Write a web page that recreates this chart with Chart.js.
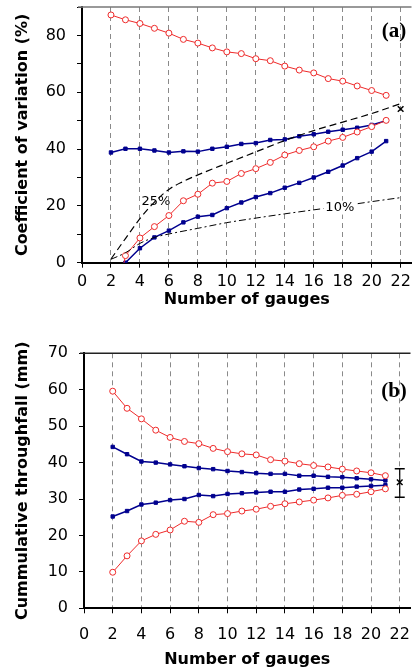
<!DOCTYPE html>
<html>
<head>
<meta charset="utf-8">
<script src="https://cdn.jsdelivr.net/npm/chart.js@4.4.1/dist/chart.umd.min.js"></script>
<style>
  html, body { margin: 0; padding: 0; background: #fff; overflow: hidden; width: 417px; height: 670px; }
  canvas { position: absolute; left: 0; }
  #ca { top: 0; }
  #cb { top: 335px; }
</style>
</head>
<body>
<canvas id="ca" width="417" height="310"></canvas>
<canvas id="cb" width="417" height="335"></canvas>
<script>
// ---------- data ----------
const gauges = [2,3,4,5,6,7,8,9,10,11,12,13,14,15,16,17,18,19,20,21];
const xTicks = [0,2,4,6,8,10,12,14,16,18,20,22];

// panel (a): coefficient of variation (%)
const cvRedUpper  = [87.2,85.5,84.2,82.5,80.8,78.6,77.3,75.6,74.2,73.6,71.8,71.1,69.2,67.8,66.8,64.8,63.9,62.2,60.6,58.9];
const cvBlueUpper = [38.8,40.1,40.1,39.5,38.8,39.2,39.1,40.1,40.8,41.8,42.1,43.2,43.4,44.5,45.2,46.1,46.8,47.5,48.5,50.0];
const cvRedLower  = [-22.5,2.5,8.7,12.7,16.6,21.8,24.1,28.0,28.6,31.4,33.1,35.3,37.9,39.5,40.8,42.8,44.1,46.0,47.9,50.1];
const cvBlueLower = [null,0.0,5.1,8.9,11.3,14.2,16.2,16.8,19.2,21.2,23.1,24.5,26.4,28.1,30.0,32.0,34.2,36.8,39.1,42.8];
const curve25X = [2,3,4,5,6,7,8,10,12,14,16,18,20,22];
const curve25Y = [1.3,8.5,15.5,21.3,25.8,28.6,30.9,35,39,43,46.5,49.5,52.5,56];
const curve10X = [2,3,4,5,6,8,10,12,14,16,18,20,22];
const curve10Y = [1.2,3.5,6.8,8.9,10.1,12.1,14.1,15.7,17.2,18.6,20.0,21.5,22.9];
const cvRef = {x: 22, y: 54.1};

// panel (b): cumulative throughfall (mm)
const tfRedUpper  = [59.6,54.9,52.0,48.9,46.9,45.8,45.2,43.9,43.0,42.4,42.1,40.8,40.4,39.7,39.2,38.8,38.2,37.7,37.2,36.4];
const tfBlueUpper = [44.3,42.3,40.3,40.0,39.5,39.0,38.5,38.2,37.7,37.4,37.1,36.9,36.9,36.4,36.4,36.1,36.0,35.7,35.4,35.1];
const tfBlueLower = [25.2,26.7,28.5,29.0,29.7,30.0,31.1,30.8,31.4,31.6,31.8,32.0,32.0,32.6,32.8,33.1,33.1,33.4,33.6,33.8];
const tfRedLower  = [9.9,14.4,18.5,20.3,21.5,23.9,23.6,25.7,26.0,26.7,27.2,28.0,28.7,29.2,29.7,30.3,31.0,31.3,32.0,32.8];
const tfRef = {x: 22, mean: 34.6, low: 30.5, high: 38.3};

// ---------- helpers ----------
const RED = '#ee2a2a', BLUE = '#00008f', GRID = '#8a8a8a';
const pts = (xs, ys) => xs.map((x, i) => ({x, y: ys[i]}));

function redSeries(ys) {
  return { data: pts(gauges, ys), borderColor: RED, borderWidth: 1, pointStyle: 'circle',
    pointRadius: 3, pointBorderWidth: 1, pointBackgroundColor: '#fff', pointBorderColor: RED, tension: 0 };
}
function blueSeries(ys) {
  return { data: pts(gauges, ys), borderColor: BLUE, borderWidth: 1.5, pointStyle: 'rect',
    pointRadius: 2.4, pointBorderWidth: 1, pointBackgroundColor: BLUE, pointBorderColor: BLUE, tension: 0 };
}

const decor = {
  id: 'decor',
  afterDraw(chart, args, o) {
    const {ctx, chartArea: a} = chart;
    ctx.save();
    ctx.strokeStyle = o.topColor; ctx.lineWidth = o.topWidth;
    ctx.beginPath(); ctx.moveTo(a.left - 4, a.top); ctx.lineTo(a.right, a.top); ctx.stroke();
    ctx.fillStyle = '#000'; ctx.textAlign = 'center'; ctx.textBaseline = 'middle';
    ctx.font = 'bold 21px "Liberation Serif"';
    ctx.fillText(o.tag, a.left + o.tagDX, a.top + o.tagDY);
    (o.notes || []).forEach(n => {
      const x = chart.scales.x.getPixelForValue(n.x), y = chart.scales.y.getPixelForValue(n.y);
      ctx.font = '13px "DejaVu Sans"';
      const w = ctx.measureText(n.text).width;
      if (n.bg) { ctx.fillStyle = '#fff'; ctx.fillRect(x - w / 2 - 2, y - 7, w + 4, 14); }
      ctx.fillStyle = '#000';
      ctx.fillText(n.text, x, y);
    });
    ctx.restore();
  }
};

function xScale(h, pad, titlePad) {
  return {
    type: 'linear', min: 0, max: 22.75,
    afterBuildTicks: s => { s.ticks = xTicks.map(v => ({value: v})); },
    afterFit: s => { s.height = h; s.paddingLeft = 0; s.paddingRight = 0; },
    ticks: { color: '#000', font: {family: 'DejaVu Sans', size: 16}, padding: pad, maxRotation: 0, autoSkip: false },
    grid: { color: c => (c.tick && c.tick.value === 0) ? 'rgba(0,0,0,0)' : GRID, lineWidth: 1,
            drawTicks: true, tickLength: 5, tickColor: '#000', tickWidth: 1, tickBorderDash: [] },
    border: { display: true, color: '#000', width: 2, dash: [5, 4] },
    title: { display: true, text: 'Number of gauges', color: '#000',
             font: {family: 'DejaVu Sans', size: 16, weight: 'bold'}, padding: {top: 0, bottom: titlePad} }
  };
}
function yScale(w, max, step, labelEvery, title) {
  return {
    type: 'linear', min: 0, max: max,
    afterFit: s => { s.width = w; s.paddingTop = 0; s.paddingBottom = 0; },
    ticks: { stepSize: step, color: '#000', font: {family: 'DejaVu Sans', size: 16}, padding: 11,
             callback: v => (v % labelEvery === 0 ? String(v) : '') },
    grid: { drawOnChartArea: false, drawTicks: true, tickLength: 5, tickColor: '#000', tickWidth: 1 },
    border: { display: true, color: '#000', width: 2 },
    title: { display: true, text: title, color: '#000',
             font: {family: 'DejaVu Sans', size: 16, weight: 'bold'}, padding: {top: 13, bottom: 0} }
  };
}

const common = {
  responsive: false, animation: false, events: [],
  plugins: { legend: {display: false}, tooltip: {enabled: false} }
};

// ---------- chart (a) ----------
new Chart(document.getElementById('ca'), {
  type: 'line',
  data: { datasets: [
    { data: pts(curve25X, curve25Y), borderColor: '#000', borderWidth: 1.2, borderDash: [7, 4],
      pointRadius: 0, cubicInterpolationMode: 'monotone' },
    { data: pts(curve10X, curve10Y), borderColor: '#000', borderWidth: 1, borderDash: [7, 3, 2, 3],
      pointRadius: 0, cubicInterpolationMode: 'monotone' },
    redSeries(cvRedUpper),
    redSeries(cvRedLower),
    blueSeries(cvBlueUpper),
    blueSeries(cvBlueLower),
    { data: [cvRef], showLine: false, pointStyle: 'crossRot', pointRadius: 4,
      pointBorderColor: '#000', pointBorderWidth: 1.5 }
  ]},
  options: Object.assign({}, common, {
    layout: { padding: {top: 7, left: 0, right: 0, bottom: 0} },
    scales: {
      x: xScale(47.3, 5, 1),
      y: yScale(82, 90, 10, 20, 'Coefficient of variation (%)')
    },
    plugins: Object.assign({}, common.plugins, {
      decor: { topColor: '#777', topWidth: 1.5, tag: '(a)', tagDX: 312, tagDY: 25,
               notes: [ {text: '25%', x: 5.1, y: 21.5, bg: false}, {text: '10%', x: 17.8, y: 19.4, bg: true} ] }
    })
  }),
  plugins: [decor]
});

// ---------- chart (b) ----------
new Chart(document.getElementById('cb'), {
  type: 'line',
  data: { datasets: [
    redSeries(tfRedUpper),
    redSeries(tfRedLower),
    blueSeries(tfBlueUpper),
    blueSeries(tfBlueLower),
    { data: [{x: tfRef.x, y: tfRef.low}, {x: tfRef.x, y: tfRef.high}], showLine: true,
      borderColor: '#000', borderWidth: 1.2, pointStyle: 'line', pointRadius: 5,
      pointBorderColor: '#000', pointBorderWidth: 1.5 },
    { data: [{x: tfRef.x, y: tfRef.mean}], showLine: false, pointStyle: 'crossRot', pointRadius: 4,
      pointBorderColor: '#000', pointBorderWidth: 1.5 }
  ]},
  options: Object.assign({}, common, {
    layout: { padding: {top: 18.3, left: 0, right: 0, bottom: 0} },
    scales: {
      x: xScale(61.7, 12, 0.5),
      y: yScale(84, 70, 5, 10, 'Cummulative throughfall (mm)')
    },
    plugins: Object.assign({}, common.plugins, {
      decor: { topColor: '#222', topWidth: 1.5, tag: '(b)', tagDX: 310, tagDY: 38, notes: [] }
    })
  }),
  plugins: [decor]
});
</script>
</body>
</html>
